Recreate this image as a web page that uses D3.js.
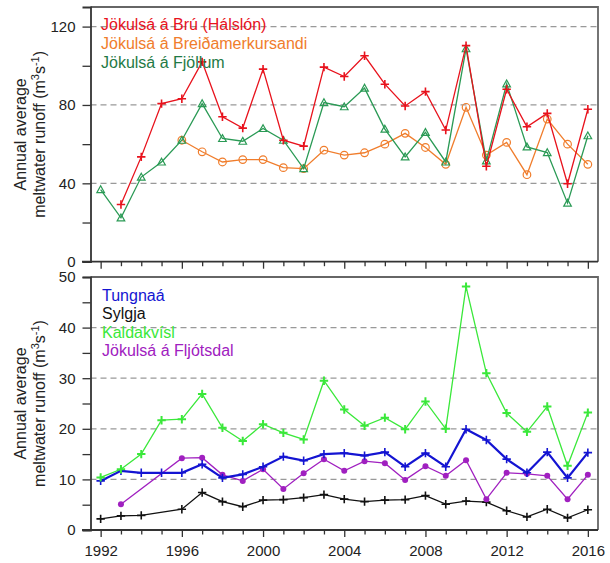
<!DOCTYPE html>
<html><head><meta charset="utf-8">
<script src="https://cdn.jsdelivr.net/npm/d3@7"></script>
<style>body{margin:0;background:#fff}svg{display:block;font-family:"Liberation Sans",Arial,sans-serif}</style>
</head><body>
<script>
const years = d3.range(1992, 2017);
// Top panel series
const bru = [null,29.2,53.5,80.7,83.2,102,74,68.2,98.3,62,59,99.3,94.5,105.1,90.6,79.5,86.8,67.2,110.3,48.7,88,68.9,75.7,39.8,77.8];
const breida = [null,null,null,null,62,56.1,50.9,52.1,52.1,48,47.5,56.9,54.4,55.6,60,65.5,58.3,49.7,78.8,54.4,60.9,44.4,72.8,60,49.7];
const fjollum = [36.8,22.4,43.2,50.9,62,80.7,62.9,61.5,68,62,47.5,81.2,79.1,88.6,67.7,53.5,66,50.9,108.7,51.5,90.8,58.6,55.7,29.9,64.3];
// Bottom panel series
const tungnaa = [9.7,11.7,11.3,11.3,11.3,13.0,10.3,11.0,12.5,14.5,13.7,15.0,15.2,14.7,15.4,12.5,15.2,12.5,19.9,17.8,14.0,11.3,15.4,10.3,15.3];
const sylgja = [2.2,2.8,2.9,null,4.1,7.4,5.6,4.6,5.9,6.0,6.4,7.0,6.1,5.6,5.9,6.0,6.8,5.1,5.7,5.5,3.8,2.6,4.1,2.4,4.0];
const kaldakvisl = [10.4,12.0,15.0,21.7,21.9,26.9,20.2,17.6,20.9,19.2,17.9,29.5,23.8,20.6,22.2,19.9,25.4,20.0,48.1,31.0,23.1,19.4,24.4,12.7,23.2];
const fljotsdal = [null,5.1,null,null,14.2,14.3,10.9,9.7,12.0,8.1,11.2,14.0,11.7,13.6,13.2,9.9,12.6,10.7,13.8,6.1,11.3,11.1,10.7,6.1,10.9];
const topTicks = [0,40,80,120];
const topMinor = [20,60,100];
const botTicks = [0,10,20,30,40,50];
const botMinor = [5,15,25,35,45];
const yearLabels = [1992,1996,2000,2004,2008,2012,2016];

const W=610,H=563;
const svg=d3.select("body").append("svg").attr("width",W).attr("height",H);
const x=d3.scaleLinear().domain([1991.5,2016.5]).range([90.5,598]);
const yTop=d3.scaleLinear().domain([0,130]).range([261.7,7]);
const yBot=d3.scaleLinear().domain([0,50]).range([530,277]);

function panel(y, major, minor, gridVals, showLabels){
  const g=svg.append("g");
  const [y0,y1]=y.range();
  // grid
  g.selectAll(".grid").data(gridVals).join("line")
    .attr("x1",x.range()[0]).attr("x2",x.range()[1])
    .attr("y1",d=>y(d)).attr("y2",d=>y(d))
    .attr("stroke","#999").attr("stroke-width",1.2).attr("stroke-dasharray","6,4");
  // frame top/right
  g.append("path").attr("d",`M${x.range()[0]},${y1}H${x.range()[1]}V${y0}`)
    .attr("fill","none").attr("stroke","#666").attr("stroke-width",1.8);
  // y axis
  const ya=g.append("g").attr("transform",`translate(${x.range()[0]},0)`)
    .call(d3.axisLeft(y).tickValues(major).tickSize(8).tickPadding(7).tickFormat(d3.format("d")));
  ya.select(".domain").attr("stroke","#333").attr("stroke-width",1.8);
  ya.selectAll(".tick line").attr("stroke","#333").attr("stroke-width",1.3);
  ya.selectAll("text").attr("font-size",15).attr("fill","#222").attr("font-family","Liberation Sans, Arial");
  g.append("g").attr("transform",`translate(${x.range()[0]},0)`)
    .call(d3.axisLeft(y).tickValues(minor).tickSize(8).tickFormat(""))
    .call(s=>{s.select(".domain").remove();s.selectAll("line").attr("stroke","#333").attr("stroke-width",1.3);});
  // x axis
  const xa=g.append("g").attr("transform",`translate(0,${y0})`)
    .call(d3.axisBottom(x).tickValues(yearLabels).tickSize(7).tickPadding(8).tickFormat(showLabels?d3.format("d"):""));
  xa.select(".domain").attr("stroke","#333").attr("stroke-width",1.8).attr("d",`M82,0H${x.range()[1]}`);
  xa.selectAll(".tick line").attr("stroke","#333").attr("stroke-width",1.3);
  xa.selectAll("text").attr("font-size",15).attr("fill","#222").attr("font-family","Liberation Sans, Arial");
  g.append("g").attr("transform",`translate(0,${y0})`)
    .call(d3.axisBottom(x).tickValues(years.filter(v=>!yearLabels.includes(v))).tickSize(4.5).tickFormat(""))
    .call(s=>{s.select(".domain").remove();s.selectAll("line").attr("stroke","#333").attr("stroke-width",1.3);});
  // axis title
  const cy=(y0+y1)/2;
  const t=g.append("text").attr("transform",`translate(26,${cy}) rotate(-90)`)
    .attr("text-anchor","middle").attr("font-size",16).attr("fill","#222");
  t.append("tspan").attr("x",0).attr("dy",0).text("Annual average");
  const t2=t.append("tspan").attr("x",0).attr("dy",19).text("meltwater runoff (m");
  t2.append("tspan").attr("font-size",11).attr("dy",-6).text("3");
  t.append("tspan").attr("dy",6).text("s");
  t.append("tspan").attr("font-size",11).attr("dy",-6).text("-1");
  t.append("tspan").attr("dy",6).text(")");
  return g;
}

panel(yTop, topTicks, topMinor, [40,80,120], false);
panel(yBot, botTicks, botMinor, [10,20,30,40], true);

function series(y, vals, color, sw, marker){
  const pts=years.map((yr,i)=>({yr,v:vals[i]})).filter(d=>d.v!=null);
  const line=d3.line().x(d=>x(d.yr)).y(d=>y(d.v));
  svg.append("path").datum(pts).attr("d",line).attr("fill","none").attr("stroke",color).attr("stroke-width",sw);
  const m=svg.append("g");
  pts.forEach(d=>{
    const cx=x(d.yr), cy=y(d.v);
    if(marker==="plus"||marker==="plusBold"){
      const s=4.2;
      m.append("path").attr("d",`M${cx-s},${cy}H${cx+s}M${cx},${cy-s}V${cy+s}`)
        .attr("stroke",color).attr("stroke-width",marker==="plusBold"?2:1.6);
    } else if(marker==="tri"){
      const s=3.8;
      m.append("path").attr("d",`M${cx},${cy-s}L${cx+s},${cy+s*0.8}L${cx-s},${cy+s*0.8}Z`)
        .attr("fill","none").attr("stroke",color).attr("stroke-width",1.2);
    } else if(marker==="circle"){
      m.append("circle").attr("cx",cx).attr("cy",cy).attr("r",3.8).attr("fill","none").attr("stroke",color).attr("stroke-width",1.2);
    } else if(marker==="dot"){
      m.append("circle").attr("cx",cx).attr("cy",cy).attr("r",3).attr("fill",color);
    }
  });
}

const cRed="#e8121c", cOrange="#f07d2c", cGreen="#2a9a55", cBlue="#1414d2", cBlack="#111", cLime="#3ae83a", cPurple="#a020c0";
series(yTop, breida, cOrange, 1.3, "circle");
series(yTop, fjollum, cGreen, 1.3, "tri");
series(yTop, bru, cRed, 1.3, "plus");

series(yBot, sylgja, cBlack, 1.3, "plus");
series(yBot, fljotsdal, cPurple, 1.3, "dot");
series(yBot, tungnaa, cBlue, 2.2, "plus");
series(yBot, kaldakvisl, cLime, 1.3, "plusBold");

function legend(items, x0, y0, dy){
  svg.append("g").selectAll("text").data(items).join("text")
    .attr("x",x0).attr("y",(d,i)=>y0+i*dy).attr("font-size",16)
    .attr("fill",d=>d[1]).text(d=>d[0]);
}
legend([["Jökulsá á Brú (Hálslón)",cRed],["Jökulsá á Breiðamerkursandi",cOrange],["Jökulsá á Fjöllum","#1f7a45"]],101,30,19);
legend([["Tungnaá",cBlue],["Sylgja",cBlack],["Kaldakvísl",cLime],["Jökulsá á Fljótsdal",cPurple]],102,301,18.4);
</script>
</body></html>
